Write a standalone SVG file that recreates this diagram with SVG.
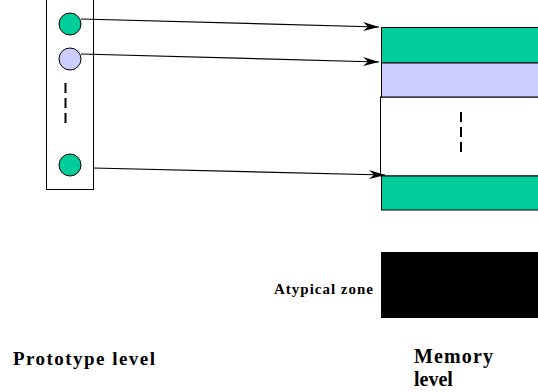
<svg xmlns="http://www.w3.org/2000/svg" width="538" height="392" viewBox="0 0 538 392">
  <style>
    .green { fill: #00cc99; stroke: #000; stroke-width: 1; }
    .lav { fill: #ccccff; stroke: #000; stroke-width: 1; }
    .frame { fill: #fff; stroke: #000; stroke-width: 1; }
    .dash { stroke: #000; stroke-width: 2; stroke-dasharray: 10 5; fill: none; }
    .link { stroke: #000; stroke-width: 1.2; fill: none; marker-end: url(#head); }
    .lbl { font-family: "Liberation Serif", "Times New Roman", serif; font-weight: bold; fill: #000; }
  </style>
  <defs>
    <marker id="head" viewBox="0 0 16 9" refX="16" refY="4.5" markerWidth="16" markerHeight="9" markerUnits="userSpaceOnUse" orient="auto">
      <path d="M0,0 L16,4.5 L0,9 L5,4.5 Z" fill="#000"/>
    </marker>
  </defs>
  <rect width="538" height="392" fill="#fff"/>

  <!-- prototype column -->
  <g id="prototype-column">
    <rect class="frame" x="46.5" y="-5" width="47" height="194.5"/>
    <line class="dash" x1="65.5" y1="83" x2="65.5" y2="128"/>
  </g>
  <g id="proto-1"><circle class="green" cx="70" cy="24" r="11"/></g>
  <g id="proto-2"><circle class="lav" cx="70" cy="59" r="11"/></g>
  <g id="proto-3"><circle class="green" cx="70" cy="165" r="11"/></g>

  <!-- memory column -->
  <g id="memory-column">
    <rect class="frame" x="380.5" y="97" width="170" height="79"/>
    <line class="dash" x1="461" y1="112" x2="461" y2="157"/>
  </g>
  <g id="mem-1"><rect class="green" x="381.5" y="27.5" width="170" height="35.5"/></g>
  <g id="mem-2"><rect class="lav" x="381.5" y="63" width="170" height="34"/></g>
  <g id="mem-3"><rect class="green" x="381.5" y="176" width="170" height="34"/></g>
  <g id="atypical">
    <rect x="381" y="252" width="160" height="66" fill="#000"/>
    <text class="lbl" x="274" y="294" font-size="15" textLength="99" lengthAdjust="spacing">Atypical zone</text>
  </g>

  <!-- connectors -->
  <g id="connectors">
    <line class="link" x1="81" y1="19" x2="379" y2="27"/>
    <line class="link" x1="81" y1="54" x2="379" y2="62"/>
    <line class="link" x1="93" y1="168" x2="385" y2="175"/>
  </g>

  <!-- level captions -->
  <text class="lbl" x="13" y="365" font-size="19" textLength="142" lengthAdjust="spacing">Prototype level</text>
  <text class="lbl" x="414" y="363" font-size="20" textLength="79" lengthAdjust="spacing">Memory</text>
  <text class="lbl" x="414" y="386" font-size="20">level</text>
</svg>
